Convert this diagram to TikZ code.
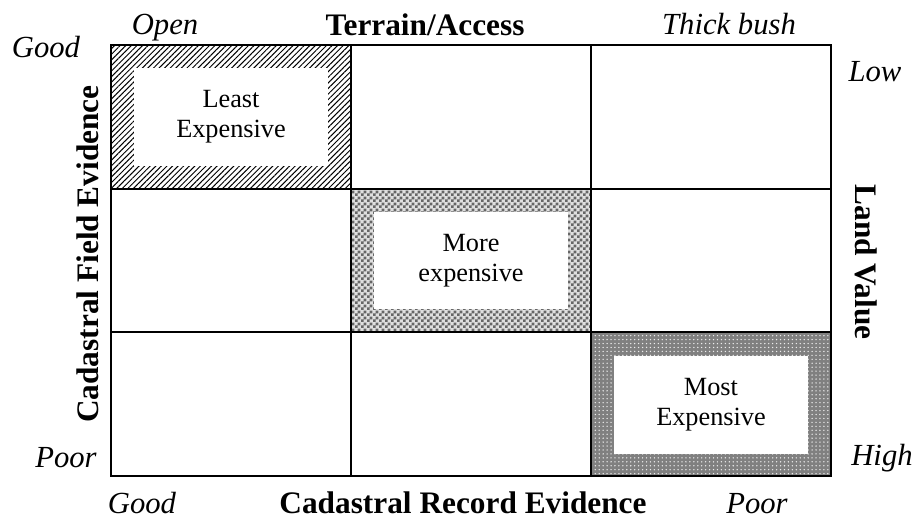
\documentclass[tikz,border=0pt]{standalone}
\usepackage{fontspec}
\setmainfont{Liberation Serif}
\usetikzlibrary{patterns,patterns.meta}

\pgfdeclarepatternformonly{finechecks}{\pgfpointorigin}{\pgfpoint{2.8pt}{2.8pt}}{\pgfpoint{2.8pt}{2.8pt}}{%
  \pgfpathrectangle{\pgfpointorigin}{\pgfpoint{1.4pt}{1.4pt}}%
  \pgfpathrectangle{\pgfpoint{1.4pt}{1.4pt}}{\pgfpoint{1.4pt}{1.4pt}}%
  \pgfusepath{fill}}

\tikzset{
  costbox/.style={fill=white, inner sep=0pt, minimum width=88.6pt, minimum height=44.3pt,
    align=center, font=\fontsize{12}{13.7}\selectfont},
  axistitle/.style={font=\fontsize{14.3}{16}\selectfont\bfseries},
  endlabel/.style={anchor=base, font=\fontsize{14}{16}\selectfont\itshape},
}

\begin{document}
\begin{tikzpicture}[x=0.4566pt, y=-0.4566pt]
  \useasboundingbox (0,0) rectangle (915,517);

  % Shaded cells
  \fill [pattern={Lines[angle=45, distance=1.8pt, line width=0.45pt]}] (111,45) rectangle (351,189);
  \fill [gray!25] (351,189) rectangle (591,332);
  \fill [pattern=finechecks, pattern color=gray!80!black] (351,189) rectangle (591,332);
  \fill [gray] (591,332) rectangle (831,476);
  \fill [pattern={Dots[radius=0.35pt, distance=1.8pt]}, pattern color=white!85!gray] (591,332) rectangle (831,476);

  % Nodes
  \node [costbox] (least) at (231,117) {Least\\Expensive};
  \node [costbox] (more) at (471,260.5) {More\\expensive};
  \node [costbox] (most) at (711,405) {Most\\Expensive};

  % Grid
  \draw [line width=0.9pt] (111,45) rectangle (831,476);
  \draw [line width=0.9pt] (351,45) -- (351,476);
  \draw [line width=0.9pt] (591,45) -- (591,476);
  \draw [line width=0.9pt] (111,189) -- (831,189);
  \draw [line width=0.9pt] (111,332) -- (831,332);

  % Labels
  \node [axistitle, anchor=base] (terrain) at (425,36) {Terrain/Access};
  \node [endlabel] (open) at (165,35) {Open};
  \node [endlabel] (bush) at (729,35) {Thick bush};
  \node [axistitle, rotate=90] (field) at (88,254) {Cadastral Field Evidence};
  \node [endlabel] (fgood) at (46,58) {Good};
  \node [endlabel] (fpoor) at (66,467) {Poor};
  \node [axistitle, rotate=-90] (land) at (866,262) {Land Value};
  \node [endlabel] (low) at (875,82) {Low};
  \node [endlabel] (high) at (882,465) {High};
  \node [axistitle, anchor=base] (record) at (463,513) {Cadastral Record Evidence};
  \node [endlabel] (rgood) at (142,513) {Good};
  \node [endlabel] (rpoor) at (757,513) {Poor};
\end{tikzpicture}
\end{document}
